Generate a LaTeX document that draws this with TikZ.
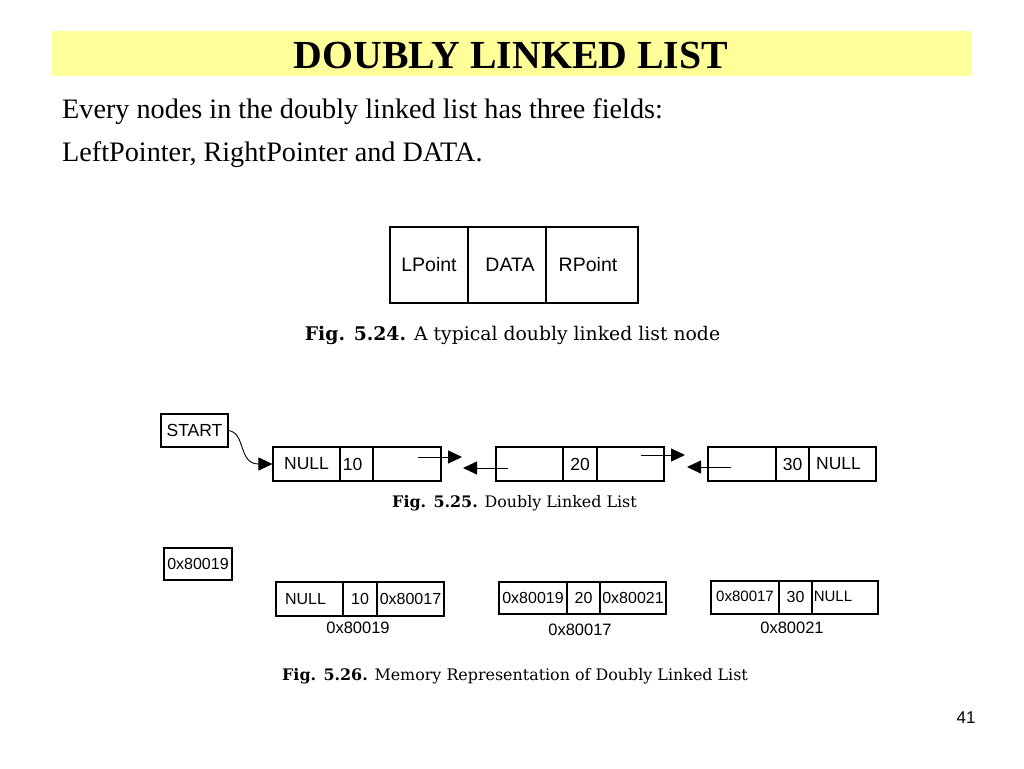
\documentclass[tikz,border=0pt]{standalone}
\usepackage{fontspec}
\setmainfont{Liberation Serif}
\newfontfamily\arialf{Liberation Sans}
\newfontfamily\capfont{DejaVu Serif}
\usetikzlibrary{arrows.meta}
\definecolor{bandyellow}{HTML}{FFFF99}
\begin{document}
\begin{tikzpicture}[x=1pt,y=-1pt,
  cellA/.style={draw, line width=1.1pt, inner sep=0pt, minimum height=76, font=\arialf\fontsize{19.5}{22}\selectfont},
  cellB/.style={draw, line width=1.1pt, inner sep=0pt, minimum height=34, font=\arialf\fontsize{17.5}{20}\selectfont},
  cellC/.style={draw, line width=1.1pt, inner sep=0pt, minimum height=33, font=\arialf\fontsize{16}{18}\selectfont},
  addr/.style={inner sep=0pt, font=\arialf\fontsize{16.5}{18}\selectfont},
  body/.style={anchor=base west, inner sep=0pt, font=\fontsize{28.2}{32}\selectfont},
  capt/.style={inner sep=0pt, font=\capfont\fontsize{#1}{20}\selectfont},
  link/.style={line width=0.9pt, -{Triangle[length=14pt,width=13pt]}}
]
\useasboundingbox (0,0) rectangle (1024,768);
% title band
\fill[bandyellow] (52,31) rectangle (972,76);
\node[anchor=base, inner sep=0pt, font=\bfseries\fontsize{39.8}{42}\selectfont] (title) at (511,68) {DOUBLY LINKED LIST};
\node[body] (line1) at (62,118) {Every nodes in the doubly linked list has three fields:};
\node[body] (line2) at (62,161) {LeftPointer, RightPointer and DATA.};

% Fig 5.24
\node[cellA, minimum width=78] (lp) at (429,265) {LPoint};
\node[cellA, minimum width=78] (dt) at (507,265) {\kern6pt DATA};
\node[cellA, minimum width=92] (rp) at (592,265) {RPoint\kern8pt};
\node[capt=18.8] (cap1) at (512.5,335) {\textbf{Fig. 5.24.} A typical doubly linked list node};

% Fig 5.25
\node[cellB, minimum width=67, minimum height=33] (start) at (194.5,430.5) {START};
\node[cellB, minimum width=67] (a1) at (306.5,464) {NULL};
\node[cellB, minimum width=33] (a2) at (356.5,464) {10\kern8pt};
\node[cellB, minimum width=68] (a3) at (407,464) {};
\node[cellB, minimum width=67] (b1) at (529.5,464) {};
\node[cellB, minimum width=34] (b2) at (580,464) {20};
\node[cellB, minimum width=67] (b3) at (630.5,464) {};
\node[cellB, minimum width=68] (c1) at (742,464) {};
\node[cellB, minimum width=33] (c2) at (792.5,464) {30};
\node[cellB, minimum width=67] (c3) at (842.5,464) {NULL\kern8pt};
\coordinate (af) at (418,457);
\coordinate (bt) at (462,457);
\coordinate (bb) at (508,468);
\coordinate (at) at (463,468);
\coordinate (bf) at (641,455);
\coordinate (ct) at (685,455);
\coordinate (cb) at (731,467);
\coordinate (btt) at (687,467);
\draw[link] (af) -- (bt);
\draw[link] (bb) -- (at);
\draw[link] (bf) -- (ct);
\draw[link] (cb) -- (btt);
\draw[link] (start.east) .. controls (246,433) and (238,464) .. (a1.west);
\node[capt=15.9] (cap2) at (514.5,503) {\textbf{Fig. 5.25.} Doubly Linked List};

% Fig 5.26
\node[cellC, minimum width=68, minimum height=32] (head) at (198,564) {0x80019};
\node[cellC, minimum width=67, minimum height=34] (d1) at (309.5,599) {NULL\kern8pt};
\node[cellC, minimum width=34, minimum height=34] (d2) at (360,599) {10};
\node[cellC, minimum width=67, minimum height=34] (d3) at (410.5,599) {0x80017};
\node[cellC, minimum width=68, minimum height=32] (e1) at (533,598) {0x80019};
\node[cellC, minimum width=33, minimum height=32] (e2) at (583.5,598) {20};
\node[cellC, minimum width=66, minimum height=32] (e3) at (633,598) {0x80021};
\node[cellC, minimum width=68, font=\arialf\fontsize{15}{17}\selectfont] (f1) at (745,597.5) {\raisebox{2pt}{0x80017}};
\node[cellC, minimum width=33] (f2) at (795.5,597.5) {\raisebox{2pt}{30}};
\node[cellC, minimum width=66, font=\arialf\fontsize{15}{17}\selectfont] (f3) at (845,597.5) {\raisebox{2pt}{NULL}\kern24pt};
\node[addr] (la) at (358,628) {0x80019};
\node[addr] (lb) at (580,630) {0x80017};
\node[addr] (lc) at (792,628) {0x80021};
\node[capt=15.9] (cap3) at (515,676) {\textbf{Fig. 5.26.} Memory Representation of Doubly Linked List};

\node[inner sep=0pt, font=\arialf\fontsize{17}{19}\selectfont] (pg) at (966,718) {41};
\end{tikzpicture}
\end{document}
